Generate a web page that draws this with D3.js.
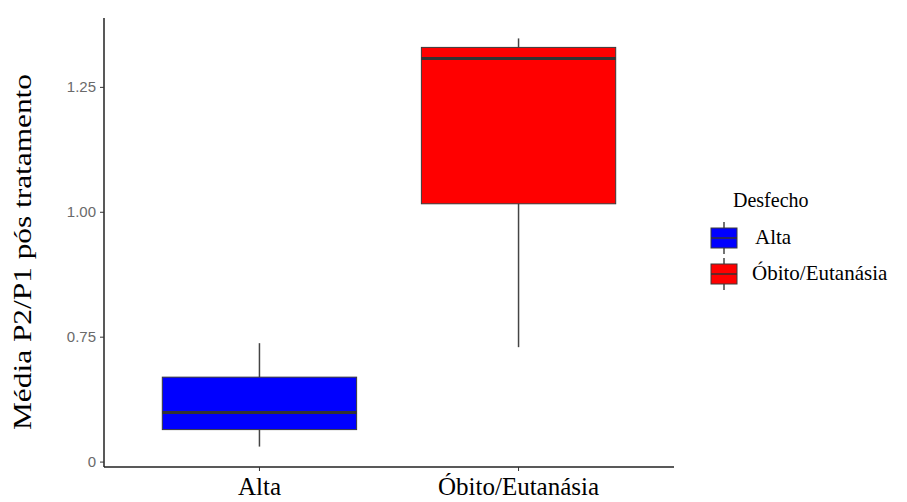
<!DOCTYPE html>
<html>
<head>
<meta charset="utf-8">
<script src="https://cdn.jsdelivr.net/npm/d3@7"></script>
<style>
  body { margin: 0; background: #fff; }
  #chart { width: 907px; height: 502px; }
</style>
</head>
<body>
<div id="chart"></div>
<script>
// categories and box statistics
const categories = ["Alta", "Óbito/Eutanásia"];
const colors = ["#0000ff", "#ff0000"];
const whiskerLow = [0.530, 0.729];
const q1 = [0.564, 1.016];
const median = [0.598, 1.307];
const q3 = [0.669, 1.329];
const whiskerHigh = [0.737, 1.347];

// y tick values and the labels printed next to them
const yTicks = [0.5, 0.75, 1.0, 1.25];
const yTickLabels = ["0", "0.75", "1.00", "1.25"];

const legendTitle = "Desfecho";
const yTitle = "Média P2/P1 pós tratamento";

const W = 907, H = 502;
const margin = {top: 18, right: 233, bottom: 35, left: 104};
const width = W - margin.left - margin.right,
    height = H - margin.top - margin.bottom;

const svg = d3.select("#chart").append("svg")
    .attr("width", W)
    .attr("height", H);

const g = svg.append("g")
    .attr("transform", "translate(" + margin.left + "," + margin.top + ")");

// ggplot-like 5% expansion of the data range
const lo = d3.min(whiskerLow), hi = d3.max(whiskerHigh);
const pad = (hi - lo) * 0.05;
const y = d3.scaleLinear()
    .domain([lo - pad, hi + pad])
    .range([height, 0]);

// discrete axis: 0.6 step of space before first and after last category
const x = d3.scaleBand()
    .domain(categories)
    .range([0, width])
    .paddingInner(0)
    .paddingOuter(0.1);

const step = x.step();
const boxW = step * 0.75;
const cx = d => x(d) + x.bandwidth() / 2;

const data = categories.map((c, i) => ({
    cat: c, color: colors[i],
    lo: whiskerLow[i], q1: q1[i], med: median[i], q3: q3[i], hi: whiskerHigh[i]
}));

const boxes = g.selectAll(".box").data(data).enter().append("g");

boxes.append("line")
    .attr("x1", d => cx(d.cat)).attr("x2", d => cx(d.cat))
    .attr("y1", d => y(d.hi)).attr("y2", d => y(d.q3))
    .attr("stroke", "#444").attr("stroke-width", 1.5);
boxes.append("line")
    .attr("x1", d => cx(d.cat)).attr("x2", d => cx(d.cat))
    .attr("y1", d => y(d.q1)).attr("y2", d => y(d.lo))
    .attr("stroke", "#444").attr("stroke-width", 1.5);
boxes.append("rect")
    .attr("x", d => cx(d.cat) - boxW / 2)
    .attr("width", boxW)
    .attr("y", d => y(d.q3))
    .attr("height", d => y(d.q1) - y(d.q3))
    .attr("fill", d => d.color)
    .attr("stroke", "#3a3a3a").attr("stroke-width", 1);
boxes.append("line")
    .attr("x1", d => cx(d.cat) - boxW / 2).attr("x2", d => cx(d.cat) + boxW / 2)
    .attr("y1", d => y(d.med)).attr("y2", d => y(d.med))
    .attr("stroke", "#333").attr("stroke-width", 3);

// axes
const yAxis = g.append("g")
    .call(d3.axisLeft(y).tickValues(yTicks)
        .tickFormat((d, i) => yTickLabels[i]).tickSize(4).tickPadding(4));
yAxis.select(".domain").attr("stroke", "#222").attr("stroke-width", 1.5)
    .attr("d", "M0," + height + "V0");
yAxis.selectAll(".tick line").attr("stroke", "#333");
yAxis.selectAll(".tick text")
    .attr("fill", "#6a6a6a")
    .style("font-family", "'Liberation Sans', Arial, sans-serif")
    .style("font-size", "15px");

const xAxis = g.append("g")
    .attr("transform", "translate(0," + height + ")")
    .call(d3.axisBottom(x).tickSize(4).tickPadding(6));
xAxis.select(".domain").attr("stroke", "#222").attr("stroke-width", 1.5)
    .attr("d", "M0,0H" + width);
xAxis.selectAll(".tick line").attr("stroke", "#333");
xAxis.selectAll(".tick text")
    .attr("fill", "#000")
    .style("font-family", "'Liberation Serif', 'Times New Roman', serif")
    .style("font-size", "25px");

// y axis title (stretched along its length like the original)
svg.append("text")
    .attr("transform", "translate(31,252) rotate(-90)")
    .attr("text-anchor", "middle")
    .attr("textLength", 356)
    .attr("lengthAdjust", "spacingAndGlyphs")
    .style("font-family", "'Liberation Serif', 'Times New Roman', serif")
    .style("font-size", "25px")
    .text(yTitle);

// legend
const legend = svg.append("g").attr("transform", "translate(708,190)");
legend.append("text")
    .attr("x", 25).attr("y", 17)
    .style("font-family", "'Liberation Serif', 'Times New Roman', serif")
    .style("font-size", "20px")
    .text(legendTitle);

const keyH = 36, keyW = 32;
const items = legend.selectAll(".item").data(data).enter().append("g")
    .attr("transform", (d, i) => "translate(0," + (30 + i * keyH) + ")");
items.append("line")
    .attr("x1", keyW / 2).attr("x2", keyW / 2)
    .attr("y1", 2).attr("y2", keyH - 2)
    .attr("stroke", "#444").attr("stroke-width", 1.5);
items.append("rect")
    .attr("x", 3).attr("y", 8)
    .attr("width", keyW - 6).attr("height", keyH - 16)
    .attr("fill", d => d.color)
    .attr("stroke", "#3a3a3a");
items.append("line")
    .attr("x1", 3).attr("x2", keyW - 3)
    .attr("y1", keyH / 2).attr("y2", keyH / 2)
    .attr("stroke", "#333").attr("stroke-width", 1.5);
items.append("text")
    .attr("x", (d, i) => i === 0 ? 47 : 44).attr("y", keyH / 2 + 6)
    .style("font-family", "'Liberation Serif', 'Times New Roman', serif")
    .style("font-size", "21px")
    .text(d => d.cat);
</script>
</body>
</html>
